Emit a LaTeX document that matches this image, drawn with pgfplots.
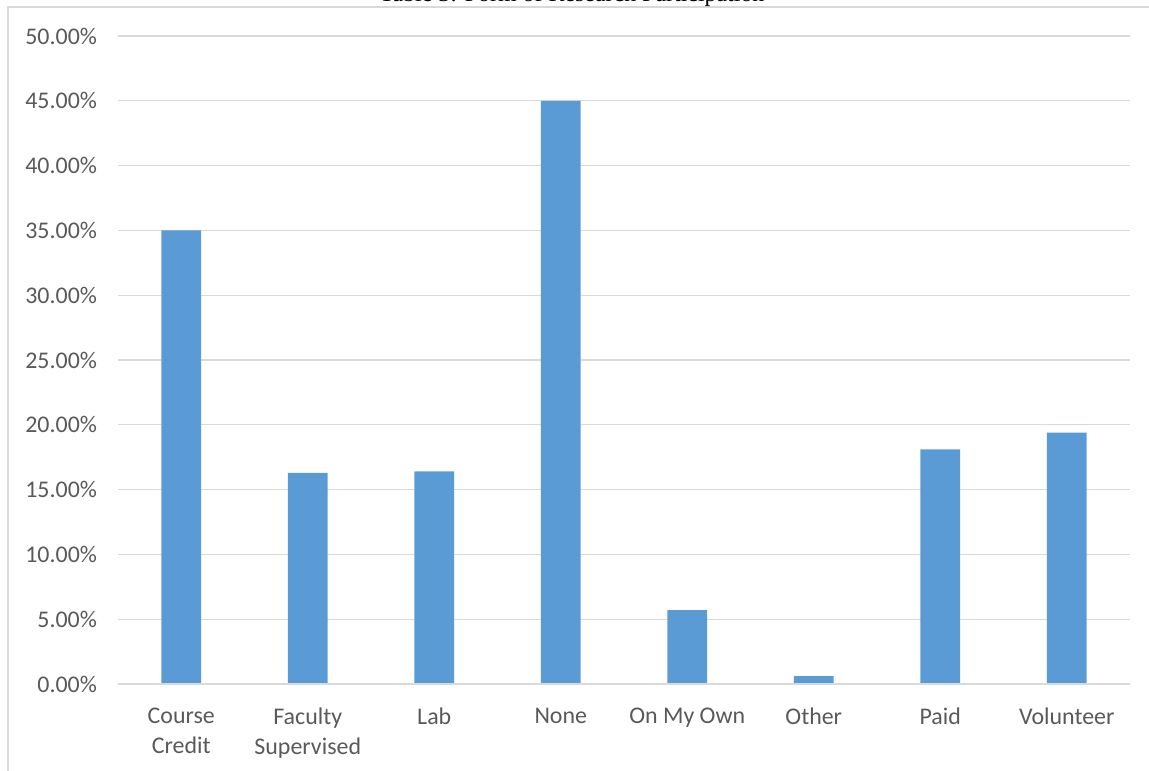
\documentclass[border=0pt]{standalone}
\usepackage{pgfplots}
\pgfplotsset{compat=1.18}
\usepackage{fontspec}
\setmainfont{Carlito}
\newfontfamily\titlefont{Liberation Serif}
\definecolor{barblue}{HTML}{5B9BD5}
\definecolor{gridgray}{HTML}{D9D9D9}
\definecolor{labgray}{HTML}{595959}
\begin{document}
\begin{tikzpicture}[x=1bp,y=1bp]
\clip (0,0) rectangle (574.5,385);
\draw[gridgray, line width=0.6bp] (4,-10) -- (4,381.5) -- (600,381.5);
\node[anchor=base, inner sep=0pt, font=\titlefont\fontsize{12}{14}\selectfont, black] at (286,384.2) {Table 3: Form of Research Participation};
\begin{axis}[
  at={(59bp,43bp)}, anchor=south west,
  scale only axis, width=506bp, height=324bp,
  xmin=-0.5, xmax=7.5, ymin=0, ymax=50,
  axis line style={draw=none},
  ybar, bar width=0.316, bar shift=0pt,
  ymajorgrids, grid style={gridgray, line width=0.6bp},
  major tick length=0pt,
  xtick={0,1,2,3,4,5,6,7},
  xticklabels={{Course\\Credit},{Faculty\\Supervised},Lab,None,On My Own,Other,Paid,Volunteer},
  xticklabel style={align=center, font=\fontsize{12}{15}\selectfont, text=labgray, anchor=north, yshift=-8.5bp},
  ytick={0,5,...,50},
  yticklabels={0.00\%,5.00\%,10.00\%,15.00\%,20.00\%,25.00\%,30.00\%,35.00\%,40.00\%,45.00\%,50.00\%},
  yticklabel style={font=\fontsize{12}{14}\selectfont, text=labgray, anchor=east, xshift=-7bp},
  clip=false,
]
\addplot[fill=barblue, draw=none] coordinates {(0,35.0) (1,16.3) (2,16.4) (3,45.0) (4,5.7) (5,0.6) (6,18.1) (7,19.4)};
\draw[gridgray, line width=1bp] (axis cs:-0.5,0) -- (axis cs:7.5,0);
\end{axis}
\end{tikzpicture}
\end{document}
